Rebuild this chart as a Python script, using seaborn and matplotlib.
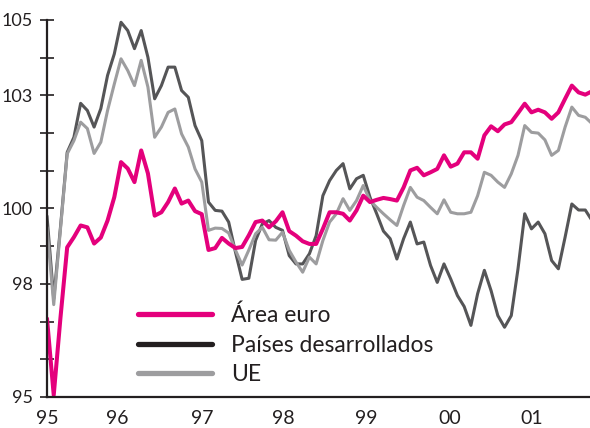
import numpy as np
import pandas as pd
import matplotlib
matplotlib.use("Agg")
import matplotlib.pyplot as plt
from matplotlib.lines import Line2D
from matplotlib.ticker import FixedLocator, FuncFormatter
import seaborn as sns

# ---- data (monthly index, base 100) ----
area_euro = [97.08, 95.05, 97.1, 98.97, 99.24, 99.55, 99.5, 99.07, 99.23, 99.68,
             100.3, 101.23, 101.06, 100.70, 101.54, 100.93, 99.81, 99.90, 100.17, 100.53,
             100.13, 100.21, 99.93, 99.85, 98.9, 98.95, 99.22, 99.07, 98.95, 98.98,
             99.29, 99.64, 99.68, 99.50, 99.66, 99.90, 99.40, 99.28, 99.13, 99.06,
             99.06, 99.46, 99.90, 99.90, 99.86, 99.68, 99.95, 100.34, 100.17, 100.23,
             100.28, 100.25, 100.21, 100.56, 101.01, 101.08, 100.88, 100.96, 101.05, 101.41,
             101.11, 101.19, 101.49, 101.49, 101.32, 101.94, 102.18, 102.05, 102.23, 102.29,
             102.53, 102.78, 102.55, 102.62, 102.55, 102.38, 102.55, 102.91, 103.26, 103.08,
             103.02, 103.11]

paises_desarrollados = [99.8, 97.6, 99.5, 101.49, 101.89, 102.79, 102.6, 102.16, 102.65, 103.53,
                        104.1, 104.94, 104.72, 104.24, 104.72, 104.01, 102.91, 103.26, 103.75, 103.75,
                        103.13, 102.95, 102.2, 101.80, 100.17, 99.95, 99.93, 99.64, 98.85, 98.12,
                        98.15, 99.15, 99.59, 99.68, 99.50, 99.42, 98.75, 98.53, 98.53, 98.80,
                        99.28, 100.34, 100.74, 101.01, 101.19, 100.52, 100.79, 100.88, 100.30, 99.86,
                        99.4, 99.2, 98.66, 99.20, 99.64, 99.06, 99.11, 98.49, 98.04, 98.53,
                        98.13, 97.69, 97.40, 96.90, 97.74, 98.36, 97.82, 97.16, 96.85, 97.16,
                        98.40, 99.86, 99.46, 99.64, 99.33, 98.62, 98.40, 99.24, 100.12, 99.96,
                        99.96, 99.68]

ue = [99.5, 97.45, 99.45, 101.45, 101.8, 102.29, 102.12, 101.46, 101.76, 102.6,
      103.3, 103.97, 103.66, 103.26, 103.93, 103.22, 101.89, 102.16, 102.55, 102.64,
      101.98, 101.63, 101.05, 100.70, 99.42, 99.48, 99.47, 99.35, 98.9, 98.5,
      98.9, 99.33, 99.50, 99.17, 99.16, 99.37, 98.89, 98.58, 98.31, 98.71,
      98.53, 99.15, 99.64, 99.86, 100.26, 99.95, 100.21, 100.61, 100.21, 100.03,
      99.86, 99.7, 99.55, 100.08, 100.56, 100.30, 100.21, 100.03, 99.86, 100.23,
      99.90, 99.86, 99.86, 99.90, 100.34, 100.96, 100.88, 100.70, 100.56, 100.92,
      101.41, 102.20, 102.02, 102.00, 101.82, 101.41, 101.54, 102.16, 102.69, 102.47,
      102.42, 102.25]

series_names = ["Área euro", "Países desarrollados", "UE"]
x_labels = ["95", "96", "97", "98", "99", "00", "01"]
y_labels = {95: "95", 98: "98", 100: "100", 103: "103", 105: "105"}

# ---- layout / style ----
x_label_pos = [0, 10.4, 23.0, 35.1, 47.4, 59.9, 72.0]
PINK = "#E4007C"
DARK = "#555557"
GREY = "#9D9D9F"
INK = "#231F20"

sns.set_style("white")
plt.rcParams["font.family"] = ["Lato", "DejaVu Sans"]

fig = plt.figure(figsize=(5.9, 4.28), dpi=100)
W, H = 590, 428
ax = fig.add_axes([47 / W, 1 - 397 / H, 1 - 47 / W, (397 - 20) / H])

idx = np.arange(len(area_euro))
df = pd.DataFrame({"i": idx, "euro": area_euro, "des": paises_desarrollados, "ue": ue})

sns.lineplot(data=df, x="i", y="des", ax=ax, color=DARK, linewidth=2.2, legend=False)
sns.lineplot(data=df, x="i", y="ue", ax=ax, color=GREY, linewidth=2.2, legend=False)
sns.lineplot(data=df, x="i", y="euro", ax=ax, color=PINK, linewidth=2.9, legend=False)

ax.set_xlim(0, 80.7)
ax.set_ylim(95, 105)
ax.set_xlabel("")
ax.set_ylabel("")

ax.yaxis.set_major_locator(FixedLocator(list(range(95, 106))))
ax.yaxis.set_major_formatter(FuncFormatter(lambda v, p: y_labels.get(int(round(v)), "")))
ax.set_xticks(x_label_pos)
ax.set_xticklabels(x_labels)

for lab in ax.get_yticklabels():
    lab.set_fontsize(13)
    lab.set_color(INK)
for lab in ax.get_xticklabels():
    lab.set_fontsize(14)
    lab.set_color(INK)

ax.tick_params(axis="y", direction="inout", length=10, width=1.2, color=INK, pad=5, left=True)
ax.tick_params(axis="x", length=0, pad=9)

for s in ["top", "right"]:
    ax.spines[s].set_visible(False)
for s in ["left", "bottom"]:
    ax.spines[s].set_color(INK)
    ax.spines[s].set_linewidth(1.6)

handles = [Line2D([], [], color=PINK, linewidth=3.8),
           Line2D([], [], color=INK, linewidth=3.8),
           Line2D([], [], color=GREY, linewidth=3.8)]
leg = ax.legend(handles, series_names, loc="upper left",
                bbox_to_anchor=(137.7 / W, 1 - 305 / H), bbox_transform=fig.transFigure,
                frameon=False, fontsize=16.5, handlelength=3.23, handletextpad=0.83,
                labelspacing=0.35, borderpad=0, borderaxespad=0)
for t in leg.get_texts():
    t.set_color(INK)

fig.savefig("out.png", dpi=100, facecolor="white")
